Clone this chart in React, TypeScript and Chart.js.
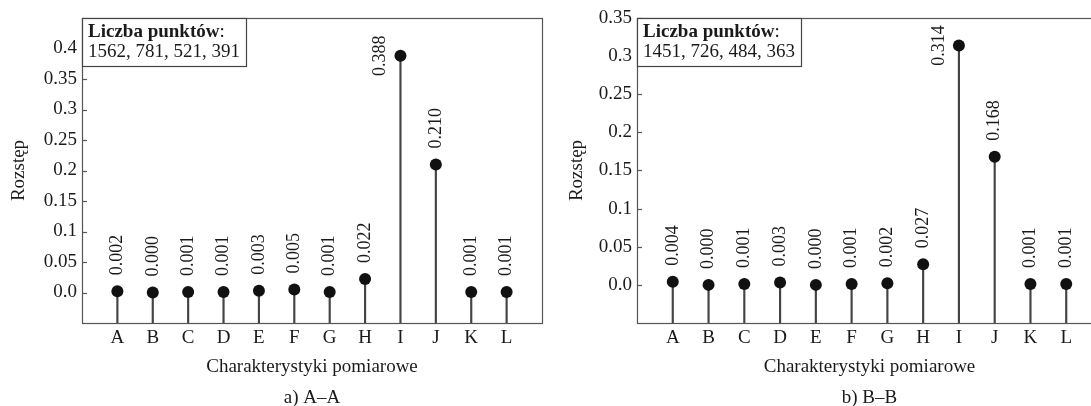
import React, { useEffect, useRef } from 'react';
import { Chart, registerables } from 'chart.js';

Chart.register(...registerables);

const FONT = '"Liberation Serif", "Times New Roman", serif';

const categories = ['A', 'B', 'C', 'D', 'E', 'F', 'G', 'H', 'I', 'J', 'K', 'L'];
const valuesA = [0.002, 0.0, 0.001, 0.001, 0.003, 0.005, 0.001, 0.022, 0.388, 0.21, 0.001, 0.001];
const valuesB = [0.004, 0.0, 0.001, 0.003, 0.0, 0.001, 0.002, 0.027, 0.314, 0.168, 0.001, 0.001];
const yTicksA = [0, 0.05, 0.1, 0.15, 0.2, 0.25, 0.3, 0.35, 0.4];
const yTickLabelsA = ['0.0', '0.05', '0.1', '0.15', '0.2', '0.25', '0.3', '0.35', '0.4'];
const yTicksB = [0, 0.05, 0.1, 0.15, 0.2, 0.25, 0.3, 0.35];
const yTickLabelsB = ['0.0', '0.05', '0.1', '0.15', '0.2', '0.25', '0.3', '0.35'];
const yRangeA = [-0.05, 0.45];
const yRangeB = [-0.05, 0.35];
const pointsA = '1562, 781, 521, 391';
const pointsB = '1451, 726, 484, 363';
const boxTitle = 'Liczba punktów';
const xTitle = 'Charakterystyki pomiarowe';
const yTitle = 'Rozstęp';
const captionA = 'a) A–A';
const captionB = 'b) B–B';

type PanelProps = {
  values: number[];
  yTicks: number[];
  yTickLabels: string[];
  yRange: number[];
  points: string;
  caption: string;
  padRight: number;
  yTitlePad: number;
};

function Panel(props: PanelProps) {
  const ref = useRef<HTMLCanvasElement | null>(null);
  useEffect(() => {
    const { values, yTicks, yTickLabels, yRange, points, caption, padRight, yTitlePad } = props;
    const labels = ['', ...categories, ''];
    const data = [null, ...values, null];

    const decor = {
      id: 'decor',
      afterDraw(chart: any) {
        const ctx = chart.ctx;
        const { left, right, top, bottom } = chart.chartArea;
        const yScale = chart.scales.y;
        ctx.save();
        // frame
        ctx.strokeStyle = '#555';
        ctx.lineWidth = 1.2;
        ctx.strokeRect(Math.round(left) + 0.5, Math.round(top) + 0.5, Math.round(right - left), Math.round(bottom - top));
        // inward tick marks
        yTicks.forEach((v) => {
          const py = Math.round(yScale.getPixelForValue(v)) + 0.5;
          ctx.beginPath();
          ctx.moveTo(left, py);
          ctx.lineTo(left + 5, py);
          ctx.stroke();
        });
        // data labels
        const meta = chart.getDatasetMeta(0);
        ctx.fillStyle = '#1a1a1a';
        ctx.font = `18px ${FONT}`;
        meta.data.forEach((pt: any, i: number) => {
          const v = data[i];
          if (v == null) return;
          const label = (v as number).toFixed(3);
          const w = ctx.measureText(label).width;
          ctx.save();
          ctx.textBaseline = 'middle';
          if (pt.y - 17 - w < top + 2) {
            ctx.translate(pt.x - 20, pt.y);
            ctx.rotate(-Math.PI / 2);
            ctx.textAlign = 'center';
          } else {
            ctx.translate(pt.x, pt.y - 16);
            ctx.rotate(-Math.PI / 2);
            ctx.textAlign = 'left';
          }
          ctx.fillText(label, 0, 0);
          ctx.restore();
        });
        // info box
        ctx.font = `bold 19px ${FONT}`;
        const wTitle = ctx.measureText(boxTitle).width;
        ctx.font = `19px ${FONT}`;
        const wColon = ctx.measureText(':').width;
        const wPts = ctx.measureText(points).width;
        const boxW = Math.round(Math.max(wTitle + wColon, wPts) + 12);
        const bx = Math.round(left) + 0.5;
        const by = Math.round(top) + 0.5;
        ctx.fillStyle = '#fff';
        ctx.fillRect(bx, by, boxW, 48);
        ctx.strokeStyle = '#444';
        ctx.lineWidth = 1.2;
        ctx.strokeRect(bx, by, boxW, 48);
        ctx.fillStyle = '#1a1a1a';
        ctx.textAlign = 'left';
        ctx.textBaseline = 'middle';
        ctx.font = `bold 19px ${FONT}`;
        ctx.fillText(boxTitle, left + 6, top + 14);
        ctx.font = `19px ${FONT}`;
        ctx.fillText(':', left + 6 + wTitle, top + 14);
        ctx.fillText(points, left + 6, top + 34);
        // caption
        ctx.textAlign = 'center';
        ctx.fillText(caption, (left + right) / 2, 398);
        ctx.restore();
      },
    };

    const chart = new Chart(ref.current as HTMLCanvasElement, {
      type: 'bar',
      data: {
        labels,
        datasets: [
          {
            type: 'line',
            data,
            showLine: false,
            pointRadius: 6,
            pointBackgroundColor: '#111',
            pointBorderWidth: 0,
            pointHoverRadius: 6,
          } as any,
          {
            type: 'bar',
            data,
            base: yRange[0],
            barThickness: 1.5,
            backgroundColor: '#444',
            borderWidth: 0,
          } as any,
        ],
      },
      options: {
        animation: false,
        responsive: false,
        events: [],
        layout: { padding: { left: 0, top: 18, right: padRight, bottom: 0 } },
        plugins: { legend: { display: false }, tooltip: { enabled: false }, title: { display: false } },
        scales: {
          x: {
            type: 'category',
            offset: false,
            grid: { display: false, offset: false, drawTicks: false },
            border: { display: false },
            ticks: {
              autoSkip: false,
              maxRotation: 0,
              padding: 4,
              color: '#1a1a1a',
              font: { family: FONT, size: 19 },
            },
            title: {
              display: true,
              text: xTitle,
              color: '#1a1a1a',
              font: { family: FONT, size: 19 },
              padding: { top: 0, bottom: 27.6 },
            },
            afterFit: (scale: any) => {
              scale.height = 83;
            },
          },
          y: {
            min: yRange[0],
            max: yRange[1],
            grid: { display: false, drawTicks: false },
            border: { display: false },
            afterBuildTicks: (scale: any) => {
              scale.ticks = yTicks.map((v) => ({ value: v }));
            },
            ticks: {
              padding: 5,
              color: '#1a1a1a',
              font: { family: FONT, size: 19 },
              callback: (_v: any, i: number) => yTickLabels[i],
            },
            title: {
              display: true,
              text: yTitle,
              color: '#1a1a1a',
              font: { family: FONT, size: 19 },
              padding: { top: yTitlePad, bottom: 0 },
            },
            afterFit: (scale: any) => {
              scale.width = 82;
            },
          },
        },
      },
      plugins: [decor],
    });
    return () => chart.destroy();
  }, []);
  return <canvas ref={ref} width={560} height={406} style={{ display: 'block' }} />;
}

export default function App() {
  return (
    <div
      style={{
        position: 'fixed',
        left: 0,
        top: 0,
        width: 1091,
        height: 406,
        overflow: 'hidden',
        background: '#fff',
      }}
    >
      <div style={{ position: 'absolute', left: 0, top: 0, width: 560, height: 406 }}>
        <Panel
          values={valuesA}
          yTicks={yTicksA}
          yTickLabels={yTickLabelsA}
          yRange={yRangeA}
          points={pointsA}
          caption={captionA}
          padRight={18}
          yTitlePad={7.6}
        />
      </div>
      <div style={{ position: 'absolute', left: 555, top: 0, width: 560, height: 406 }}>
        <Panel
          values={valuesB}
          yTicks={yTicksB}
          yTickLabels={yTickLabelsB}
          yRange={yRangeB}
          points={pointsB}
          caption={captionB}
          padRight={13}
          yTitlePad={11}
        />
      </div>
    </div>
  );
}
